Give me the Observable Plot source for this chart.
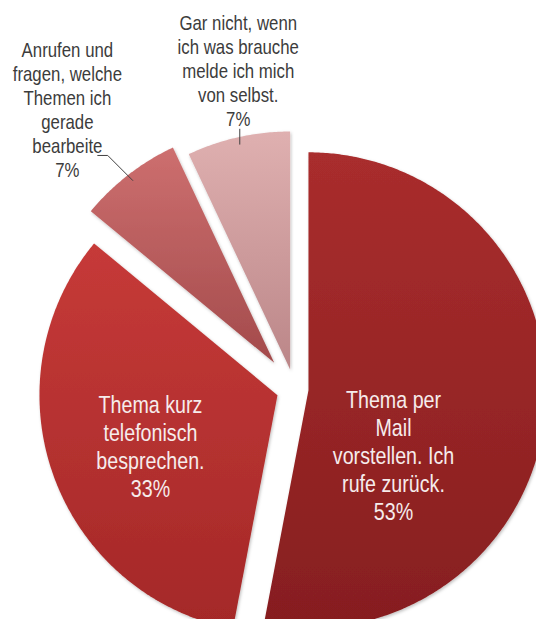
<!DOCTYPE html>
<html>
<head>
<meta charset="utf-8">
<script src="https://cdn.jsdelivr.net/npm/d3@7"></script>
<script src="https://cdn.jsdelivr.net/npm/@observablehq/plot@0.6"></script>
<style>
  html, body { margin: 0; padding: 0; background: #ffffff; }
  #chart svg { display: block; }
</style>
</head>
<body>
<div id="chart"></div>
<script>
// ---------- data ----------
const categories = [
  "Thema per Mail vorstellen. Ich rufe zurück.",
  "Thema kurz telefonisch besprechen.",
  "Anrufen und fragen, welche Themen ich gerade bearbeite",
  "Gar nicht, wenn ich was brauche melde ich mich von selbst."
];
const shares = [53, 33, 7, 7];
const labelLines = [
  ["Thema per", "Mail", "vorstellen. Ich", "rufe zurück."],
  ["Thema kurz", "telefonisch", "besprechen."],
  ["Anrufen und", "fragen, welche", "Themen ich", "gerade", "bearbeite"],
  ["Gar nicht, wenn", "ich was brauche", "melde ich mich", "von selbst."]
];

// ---------- layout / style ----------
const W = 536, H = 619;
const PX = 238;                 // pixels per pie radius
const centerPx = [294, 388.5];  // pie centre in the frame
const explode = [0.059, 0.076, 0.139, 0.084];
const labelPolar = [[123.7, 0.50], [248.4, 0.651], [320.9, 1.513], [350, 1.361]];
const inside = [true, true, false, false];
const leaderBends = [null, null, [[-0.105, 0.105], [-0.147, 0.105]], [[0, 0.063]]];
const gradients = [
  ["#a92d2d", "#861e1f"],
  ["#c63a38", "#a42828"],
  ["#cd6f6f", "#a34a4b"],
  ["#dfb0b0", "#bb8688"]
];
const FONT = "'Liberation Sans', Arial, sans-serif";
const CONDENSE = 0.82;          // horizontal squeeze of the narrow label font

// ---------- geometry from the data ----------
const rad = Math.PI / 180;
const arcs = d3.pie().sort(null).value(d => d)(shares);
const slices = arcs.map((a, i) => {
  const mid = (a.startAngle + a.endAngle) / 2;
  return {i, a0: a.startAngle, a1: a.endAngle, mid,
          tx: explode[i] * Math.sin(mid), ty: explode[i] * Math.cos(mid)};
});
const polys = slices.map(s => {
  const pts = [{x: s.tx, y: s.ty}];
  const n = Math.max(8, Math.ceil((s.a1 - s.a0) / rad) * 2);
  for (let j = 0; j <= n; j++) {
    const a = s.a0 + (s.a1 - s.a0) * j / n;
    pts.push({x: s.tx + Math.sin(a), y: s.ty + Math.cos(a)});
  }
  pts.push({x: s.tx, y: s.ty});
  return pts;
});

const labels = slices.map((s, i) => {
  const [ang, dist] = labelPolar[i];
  return {
    x: dist * Math.sin(ang * rad),
    y: dist * Math.cos(ang * rad),
    text: [...labelLines[i], `${shares[i]}%`].join("\n"),
    inside: inside[i]
  };
});

const leaders = [];
slices.forEach((s, i) => {
  if (!leaderBends[i]) return;
  const p0 = {k: i, x: s.tx + 0.97 * Math.sin(s.mid), y: s.ty + 0.97 * Math.cos(s.mid)};
  leaders.push(p0);
  leaderBends[i].forEach(([dx, dy]) => leaders.push({k: i, x: p0.x + dx, y: p0.y + dy}));
});

const xDomain = [-centerPx[0] / PX, (W - centerPx[0]) / PX];
const yDomain = [-(H - centerPx[1]) / PX, centerPx[1] / PX];

const plot = Plot.plot({
  width: W,
  height: H,
  margin: 0,
  x: {domain: xDomain, axis: null},
  y: {domain: yDomain, axis: null},
  style: {background: "#ffffff", overflow: "hidden"},
  marks: [
    ...polys.map((pts, i) => Plot.line(pts, {
      x: "x", y: "y", fill: `url(#sliceGrad${i})`, stroke: "none", curve: "linear"
    })),
    Plot.line(leaders, {x: "x", y: "y", z: "k", stroke: "#404040", strokeWidth: 1}),
    Plot.text(labels.filter(d => d.inside), {
      x: "x", y: "y", text: "text", fill: "#f6ecec",
      fontSize: 24, lineHeight: 1.17, fontFamily: FONT
    }),
    Plot.text(labels.filter(d => !d.inside), {
      x: "x", y: "y", text: "text", fill: "#3c3c3c",
      fontSize: 20.5, lineHeight: 1.17, fontFamily: FONT
    })
  ]
});

// gradient + soft shadow definitions
const ns = "http://www.w3.org/2000/svg";
const defs = document.createElementNS(ns, "defs");
gradients.forEach(([c0, c1], i) => {
  const g = document.createElementNS(ns, "linearGradient");
  g.setAttribute("id", `sliceGrad${i}`);
  g.setAttribute("x1", "0"); g.setAttribute("y1", "0");
  g.setAttribute("x2", "0"); g.setAttribute("y2", "1");
  [[0, c0], [1, c1]].forEach(([o, c]) => {
    const st = document.createElementNS(ns, "stop");
    st.setAttribute("offset", o);
    st.setAttribute("stop-color", c);
    g.appendChild(st);
  });
  defs.appendChild(g);
});
const filt = document.createElementNS(ns, "filter");
filt.setAttribute("id", "softShadow");
filt.setAttribute("x", "-10%"); filt.setAttribute("y", "-10%");
filt.setAttribute("width", "120%"); filt.setAttribute("height", "120%");
const ds = document.createElementNS(ns, "feDropShadow");
ds.setAttribute("dx", "1"); ds.setAttribute("dy", "1.5");
ds.setAttribute("stdDeviation", "1.5");
ds.setAttribute("flood-color", "#000");
ds.setAttribute("flood-opacity", "0.25");
filt.appendChild(ds);
defs.appendChild(filt);
plot.insertBefore(defs, plot.firstChild);
plot.querySelectorAll('g[aria-label="line"]').forEach((g, i) => {
  if (i < polys.length) g.setAttribute("filter", "url(#softShadow)");
});
// narrow the label type (the source uses a condensed face)
plot.querySelectorAll('g[aria-label="text"] text').forEach(t => {
  const tr = t.getAttribute("transform") || "";
  t.setAttribute("transform", `${tr} scale(${CONDENSE},1)`);
});

document.getElementById("chart").appendChild(plot);
</script>
</body>
</html>
